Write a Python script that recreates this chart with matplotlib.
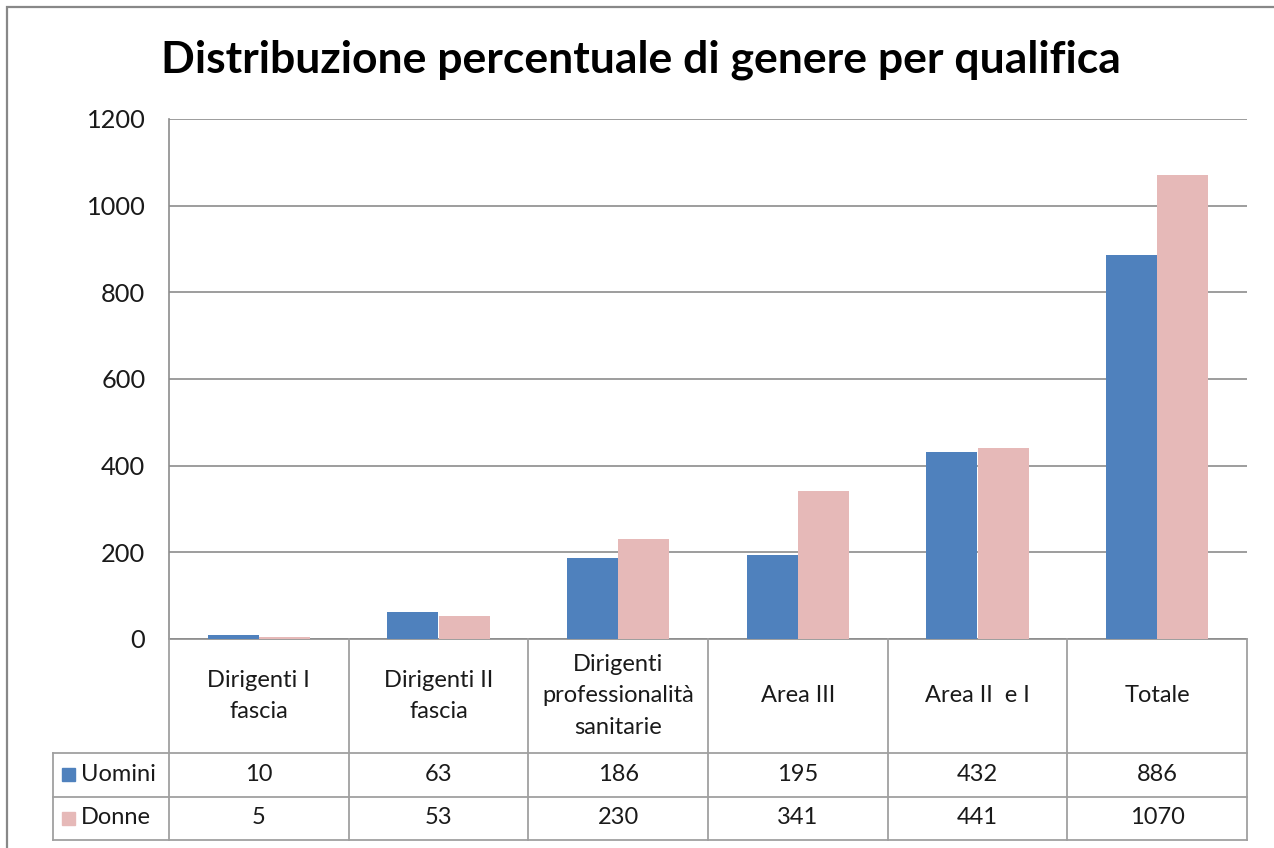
import numpy as np
import matplotlib
matplotlib.use("Agg")
import matplotlib.pyplot as plt
from matplotlib.patches import Rectangle

categories = ["Dirigenti I\nfascia", "Dirigenti II\nfascia", "Dirigenti\nprofessionalità\nsanitarie",
              "Area III", "Area II  e I", "Totale"]
series_names = ["Uomini", "Donne"]
uomini = [10, 63, 186, 195, 432, 886]
donne = [5, 53, 230, 341, 441, 1070]
yticks = [0, 200, 400, 600, 800, 1000, 1200]
title = "Distribuzione percentuale di genere per qualifica"

BLUE = "#4F81BD"
PINK = "#E6B9B8"
GRID = "#8C8C8C"
TXT = "#1A1A1A"
FONT = "Lato"

plt.rcParams["font.family"] = [FONT, "DejaVu Sans"]

W, H = 1274, 848
fig = plt.figure(figsize=(W / 100, H / 100), dpi=100)

# outer chart border
fig.add_artist(Rectangle((7 / W, -0.1), 1.2, 1 - 7 / H + 0.1, transform=fig.transFigure,
                         fill=False, edgecolor="#888888", linewidth=1.6))

fig.text(641 / W, 1 - 60 / H, title, ha="center", va="center", fontsize=32,
         fontweight="bold", color="black")

ax = fig.add_axes([169 / W, 1 - 639 / H, (1247 - 169) / W, (639 - 119) / H])
x = np.arange(len(categories))
w = 0.285
ax.bar(x - w / 2, uomini, w, color=BLUE, zorder=3)
ax.bar(x + w / 2, donne, w, color=PINK, zorder=3)
ax.set_xlim(-0.5, len(categories) - 0.5)
ax.set_ylim(0, 1200)
ax.set_yticks(yticks)
ax.set_yticklabels([str(v) for v in yticks])
ax.set_xticks([])
ax.yaxis.grid(True, color=GRID, linewidth=1.2, zorder=0)
ax.tick_params(axis="y", length=0, pad=17, labelsize=18.3, labelcolor=TXT)
for s in ["top", "right"]:
    ax.spines[s].set_visible(False)
for s in ["left", "bottom"]:
    ax.spines[s].set_color(GRID)
    ax.spines[s].set_linewidth(1.2)

# data table below
tab = fig.add_axes([169 / W, 1 - 840 / H, (1247 - 169) / W, (840 - 639) / H])
tab.set_xlim(-0.5, len(categories) - 0.5)
tab.set_ylim(201, 0)
tab.axis("off")
n = len(categories)
unit = (1247 - 169) / n
legw = (169 - 53) / unit
lc = "#A0A0A0"
lw = 1.3
row_y = [114, 157.5, 201]
for k in range(n + 1):
    tab.plot([k - 0.5, k - 0.5], [0, 201], color=lc, lw=lw, clip_on=False)
tab.plot([-0.5 - legw, -0.5 - legw], [114, 201], color=lc, lw=lw, clip_on=False)
for yy in row_y:
    tab.plot([-0.5 - legw, n - 0.5], [yy, yy], color=lc, lw=lw, clip_on=False)

for i, c in enumerate(categories):
    tab.text(i, 57, c, ha="center", va="center", fontsize=17, color=TXT, linespacing=1.6)
rows = [uomini, donne]
colors = [BLUE, PINK]
centers = [135.5, 179]
for r, (vals, nm, col, cy) in enumerate(zip(rows, series_names, colors, centers)):
    for i, v in enumerate(vals):
        tab.text(i, cy, str(v), ha="center", va="center", fontsize=17, color=TXT)
    sq = 13 / unit
    tab.add_patch(Rectangle((-0.5 - legw + 9 / unit, cy - 6.5), sq, 13, color=col, clip_on=False))
    tab.text(-0.5 - legw + 28 / unit, cy, nm, ha="left", va="center", fontsize=17, color=TXT)

fig.savefig("out.png", dpi=100)
